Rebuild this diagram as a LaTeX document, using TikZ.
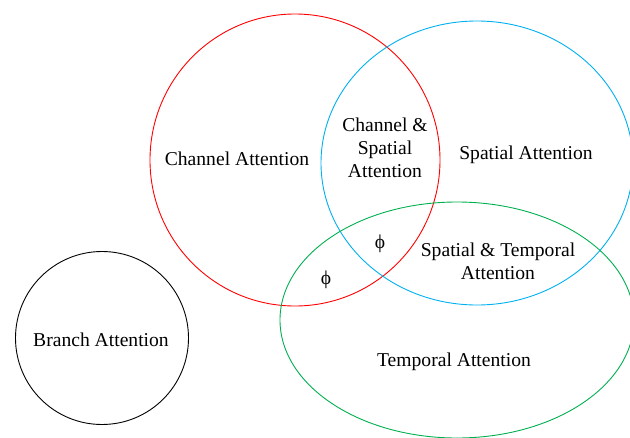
\documentclass[tikz,border=0pt]{standalone}
\usepackage{fontspec}
\setmainfont{Liberation Serif}
\usetikzlibrary{shapes.geometric}
\definecolor{chanred}{HTML}{FF0000}
\definecolor{spatblue}{HTML}{00B0F0}
\definecolor{tempgreen}{HTML}{00B050}
\begin{document}
\begin{tikzpicture}[x=1pt,y=-1pt,
  region/.style={ellipse, inner sep=0pt, line width=0.9pt},
  lbl/.style={align=center, font=\fontsize{19.6}{23}\selectfont, inner sep=0pt}]
\useasboundingbox (0,0) rectangle (630,437);
\clip (0,0) rectangle (630,437);
% attention domains
\node[region, draw=chanred, minimum width=290pt, minimum height=292pt] (chan) at (295,160) {};
\node[region, draw=spatblue, minimum width=312pt, minimum height=284pt] (spat) at (477,163) {};
\node[region, draw=tempgreen, minimum width=354pt, minimum height=236pt] (temp) at (457,320) {};
\node[region, draw=black, minimum width=173pt, minimum height=173pt] (branch) at (102,338) {};
% labels
\node[lbl] (chanlbl) at (237,159) {Channel Attention};
\node[lbl] (cslbl) at (385,148) {Channel \&\\Spatial\\Attention};
\node[lbl] (spatlbl) at (526,155) {Spatial Attention};
\node[lbl] (stlbl) at (498,261) {Spatial \& Temporal\\Attention};
\node[lbl] (templbl) at (454,362) {Temporal Attention};
\node[lbl] (branchlbl) at (101,340) {Branch Attention};
\node[lbl] (phiA) at (380,244) {ϕ};
\node[lbl] (phiB) at (326,280) {ϕ};
\end{tikzpicture}
\end{document}
